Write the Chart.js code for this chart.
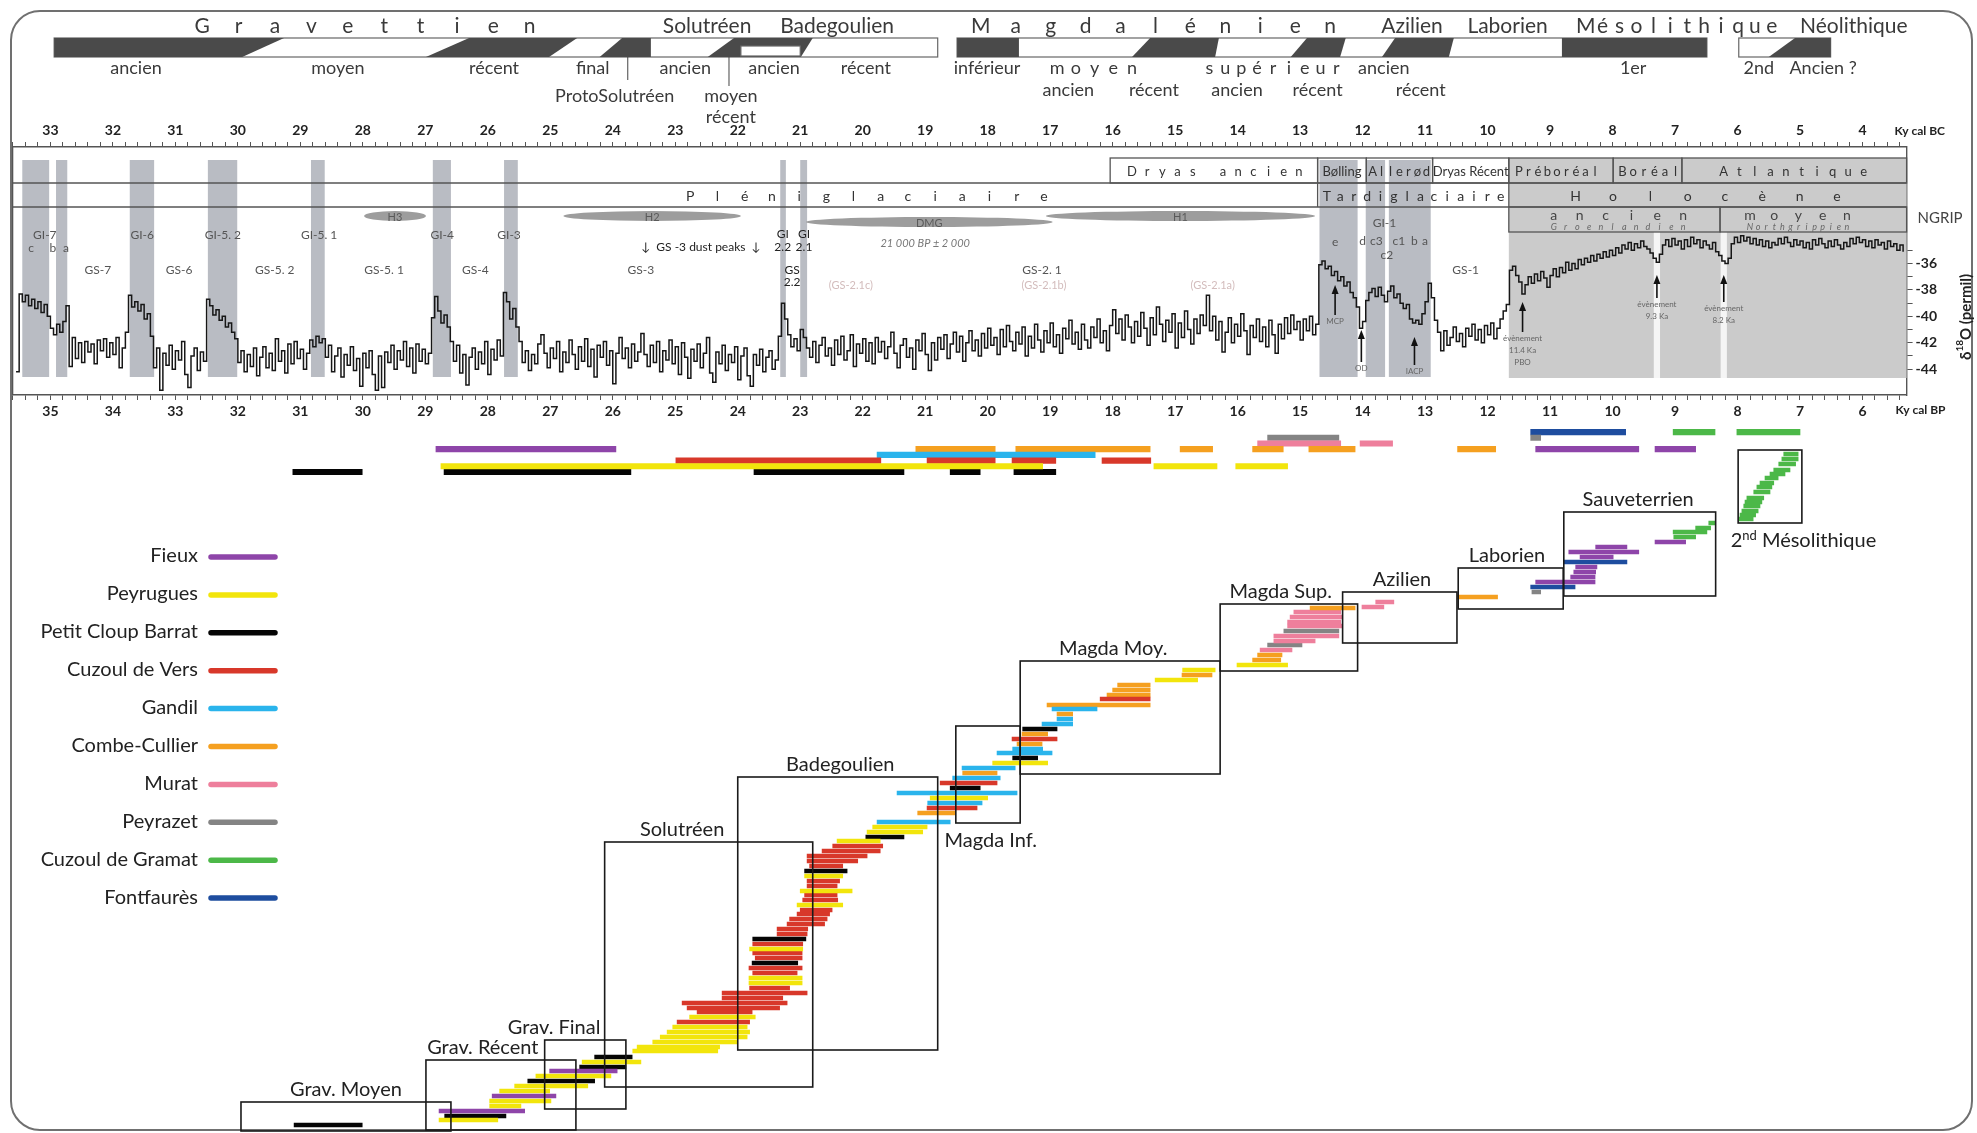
<!DOCTYPE html>
<html lang="fr">
<head>
<meta charset="utf-8">
<title>Chronologie Paléolithique supérieur – Mésolithique</title>
<script src="https://cdn.jsdelivr.net/npm/chart.js"></script>
<style>
  html, body { margin: 0; padding: 0; background: #fff; }
  #page { position: relative; width: 1977px; height: 1133px; overflow: hidden; }
  #frame { position: absolute; left: 10px; top: 10px; width: 1959px; height: 1117px;
           border: 2px solid #707070; border-radius: 30px; }
  #ngrip { position: absolute; left: 0; top: 0; }
  #sites { position: absolute; left: 0; top: 420px; }
</style>
</head>
<body>
<div id="page">
  <div id="frame"></div>
  <canvas id="ngrip" width="1977" height="420"></canvas>
  <canvas id="sites" width="1977" height="713"></canvas>
</div>
<script>
// ============================================================
// Chronologie : périodes, NGRIP et dates des sites
// ============================================================

// ─── Axe commun (ky cal BP) ───
const BP_OLD = 35.605, BP_YOUNG = 5.294;
const BC_SHIFT = 2;

// ─── NGRIP δ18O [ky cal BP, permil] ───
const ngrip = [
  [35.55,-44.2],[35.50,-38.3],[35.45,-38.9],[35.40,-38.4],[35.35,-39.2],[35.30,-38.7],[35.25,-39.4],[35.20,-38.9],[35.15,-39.7],
  [35.10,-39.1],[35.05,-40.0],[35.00,-40.9],[34.95,-41.4],[34.90,-40.6],[34.85,-41.2],[34.80,-40.4],[34.75,-39.2],[34.70,-43.8],
  [34.65,-41.6],[34.60,-43.2],[34.55,-42.0],[34.50,-43.5],[34.45,-41.9],[34.40,-42.7],[34.35,-42.1],[34.30,-43.6],[34.25,-41.8],
  [34.20,-42.6],[34.15,-41.7],[34.10,-43.1],[34.05,-42.0],[34.00,-42.9],[33.95,-41.6],[33.90,-43.9],[33.85,-42.4],[33.80,-41.2],
  [33.75,-38.4],[33.70,-39.3],[33.65,-38.9],[33.60,-39.6],[33.55,-39.1],[33.50,-40.2],[33.45,-39.8],[33.40,-41.5],[33.35,-43.9],
  [33.30,-42.4],[33.25,-45.6],[33.20,-42.8],[33.15,-43.7],[33.10,-42.2],[33.05,-44.0],[33.00,-42.6],[32.95,-43.3],[32.90,-41.9],
  [32.85,-44.4],[32.80,-45.4],[32.75,-43.0],[32.70,-42.4],[32.65,-44.1],[32.60,-42.7],[32.55,-43.4],
  [32.50,-38.7],[32.45,-39.2],[32.40,-39.9],[32.35,-39.5],[32.30,-40.3],[32.25,-40.0],[32.20,-40.8],[32.15,-40.5],[32.10,-41.2],
  [32.05,-41.7],[32.00,-43.5],
  [31.95,-42.6],[31.90,-44.2],[31.85,-42.9],[31.80,-43.8],[31.75,-42.4],[31.70,-44.5],[31.65,-43.1],[31.60,-42.3],[31.55,-43.9],
  [31.50,-42.8],[31.45,-44.1],[31.40,-41.7],[31.35,-43.4],[31.30,-42.6],[31.25,-44.3],[31.20,-42.1],[31.15,-43.6],[31.10,-41.9],
  [31.05,-43.2],[31.00,-42.5],[30.95,-44.0],[30.90,-42.8],[30.85,-41.8],[30.80,-42.3],[30.75,-41.5],[30.70,-42.0],[30.65,-41.7],
  [30.60,-43.1],[30.55,-42.2],[30.50,-44.2],[30.45,-43.0],[30.40,-42.4],[30.35,-44.6],[30.30,-42.9],[30.25,-43.7],[30.20,-42.3],
  [30.15,-44.1],[30.10,-43.2],[30.05,-45.3],[30.00,-42.8],[29.95,-43.9],[29.90,-42.6],[29.85,-44.4],[29.80,-45.6],[29.75,-43.0],
  [29.70,-45.4],[29.65,-42.7],[29.60,-43.5],[29.55,-42.2],[29.50,-44.0],[29.45,-42.6],[29.40,-43.3],[29.35,-41.9],[29.30,-43.8],
  [29.25,-42.4],[29.20,-44.3],[29.15,-42.1],[29.10,-43.4],[29.05,-42.5],[29.00,-43.6],
  [28.95,-42.8],[28.90,-40.1],[28.85,-38.5],[28.80,-39.6],[28.75,-40.5],[28.70,-39.9],[28.65,-40.8],[28.60,-41.9],
  [28.55,-43.4],[28.50,-42.2],[28.45,-44.3],[28.40,-42.9],[28.35,-45.2],[28.30,-43.1],[28.25,-42.4],[28.20,-44.0],[28.15,-42.7],
  [28.10,-43.6],[28.05,-41.9],[28.00,-44.4],[27.95,-42.5],[27.90,-43.3],[27.85,-41.8],[27.80,-43.0],
  [27.75,-38.2],[27.70,-38.9],[27.65,-40.2],[27.60,-39.4],[27.55,-40.8],[27.50,-41.9],[27.45,-43.5],
  [27.40,-42.6],[27.35,-44.1],[27.30,-42.9],[27.25,-43.6],[27.20,-42.1],[27.15,-41.4],[27.10,-42.8],[27.05,-43.9],[27.00,-42.4],
  [26.95,-43.2],[26.90,-41.9],[26.85,-44.2],[26.80,-42.7],[26.75,-43.5],[26.70,-41.8],[26.65,-42.9],[26.60,-44.0],[26.55,-42.3],
  [26.50,-43.4],[26.45,-41.7],[26.40,-43.8],[26.35,-42.5],[26.30,-44.6],[26.25,-42.2],[26.20,-43.1],[26.15,-41.9],[26.10,-43.7],
  [26.05,-42.6],[26.00,-45.1],[25.95,-42.8],[25.90,-41.6],[25.85,-43.2],[25.80,-42.4],[25.75,-43.9],[25.70,-42.1],[25.65,-43.4],
  [25.60,-42.7],[25.55,-41.3],[25.50,-42.9],[25.45,-43.8],[25.40,-42.2],[25.35,-43.5],[25.30,-41.9],[25.25,-44.2],[25.20,-42.6],
  [25.15,-43.3],[25.10,-41.8],[25.05,-43.6],[25.00,-42.3],[24.95,-44.4],[24.90,-42.0],[24.85,-43.1],[24.80,-44.7],[24.75,-42.5],
  [24.70,-43.4],[24.65,-42.1],[24.60,-43.9],[24.55,-42.8],[24.50,-41.6],[24.45,-44.3],[24.40,-45.0],[24.35,-42.7],[24.30,-43.6],
  [24.25,-42.2],[24.20,-44.1],[24.15,-42.9],[24.10,-43.5],[24.05,-42.3],[24.00,-44.8],[23.95,-43.0],[23.90,-42.4],[23.85,-44.5],
  [23.80,-45.3],[23.75,-42.9],[23.70,-43.7],[23.65,-42.5],[23.60,-44.2],[23.55,-43.1],[23.50,-42.6],[23.45,-44.0],[23.40,-43.3],
  [23.35,-41.5],[23.30,-39.0],[23.25,-40.2],[23.20,-41.4],[23.15,-42.3],[23.10,-41.7],[23.05,-42.6],[23.00,-41.0],[22.95,-41.6],
  [22.90,-42.4],
  [22.85,-43.1],[22.80,-41.9],[22.75,-43.5],[22.70,-42.2],[22.65,-41.6],[22.60,-43.0],[22.55,-42.4],[22.50,-43.7],[22.45,-41.8],
  [22.40,-42.9],[22.35,-41.5],[22.30,-43.3],[22.25,-42.6],[22.20,-41.4],[22.15,-43.8],[22.10,-42.1],[22.05,-42.8],[22.00,-41.7],
  [21.95,-43.4],[21.90,-42.0],[21.85,-43.6],[21.80,-41.6],[21.75,-42.7],[21.70,-41.9],[21.65,-43.2],[21.60,-42.3],[21.55,-41.2],
  [21.50,-42.8],[21.45,-43.9],[21.40,-42.2],[21.35,-41.7],[21.30,-43.1],[21.25,-42.4],[21.20,-44.0],[21.15,-41.8],[21.10,-42.6],
  [21.05,-41.3],[21.00,-42.9],[20.95,-44.1],[20.90,-42.0],[20.85,-43.3],[20.80,-41.6],[20.75,-42.5],[20.70,-41.4],[20.65,-43.2],
  [20.60,-42.1],[20.55,-41.2],[20.50,-42.7],[20.45,-41.5],[20.40,-43.4],[20.35,-42.0],[20.30,-41.1],[20.25,-42.6],[20.20,-41.8],
  [20.15,-43.0],[20.10,-41.3],[20.05,-42.4],[20.00,-40.9],[19.95,-42.2],[19.90,-41.6],[19.85,-42.9],[19.80,-41.0],[19.75,-42.3],
  [19.70,-40.7],[19.65,-41.9],[19.60,-42.6],[19.55,-41.2],[19.50,-42.1],[19.45,-40.8],[19.40,-43.0],[19.35,-41.5],[19.30,-42.4],
  [19.25,-40.6],[19.20,-41.8],[19.15,-42.7],[19.10,-41.1],[19.05,-42.0],[19.00,-40.5],[18.95,-42.3],[18.90,-41.4],[18.85,-42.8],
  [18.80,-40.9],[18.75,-41.7],[18.70,-40.3],[18.65,-42.1],[18.60,-41.2],[18.55,-42.5],[18.50,-40.6],[18.45,-41.8],[18.40,-42.4],
  [18.35,-40.8],[18.30,-41.6],[18.25,-40.2],[18.20,-42.0],[18.15,-41.1],[18.10,-42.6],[18.05,-40.7],
  [18.00,-39.5],[17.95,-41.3],[17.90,-40.2],[17.85,-41.8],[17.80,-39.9],[17.75,-40.8],[17.70,-42.0],[17.65,-40.4],[17.60,-41.5],
  [17.55,-39.7],[17.50,-40.9],[17.45,-42.2],[17.40,-40.1],[17.35,-41.4],[17.30,-39.3],[17.25,-40.6],[17.20,-41.9],[17.15,-40.3],
  [17.10,-41.2],[17.05,-39.8],[17.00,-42.4],[16.95,-40.5],[16.90,-41.6],[16.85,-39.6],[16.80,-41.0],[16.75,-42.1],[16.70,-40.2],
  [16.65,-41.3],[16.60,-39.9],[16.55,-40.7],[16.50,-38.4],[16.45,-41.1],[16.40,-40.0],[16.35,-41.8],[16.30,-40.4],[16.25,-42.7],
  [16.20,-41.2],[16.15,-40.1],[16.10,-42.0],[16.05,-40.6],[16.00,-41.5],[15.95,-39.8],[15.90,-41.1],[15.85,-42.9],[15.80,-40.7],
  [15.75,-41.6],[15.70,-40.2],[15.65,-41.9],[15.60,-40.8],[15.55,-42.3],[15.50,-40.3],[15.45,-41.4],[15.40,-42.8],[15.35,-40.6],
  [15.30,-41.7],[15.25,-40.1],[15.20,-41.3],[15.15,-39.9],[15.10,-41.0],[15.05,-40.4],[15.00,-41.8],[14.95,-40.2],[14.90,-41.1],
  [14.85,-40.0],[14.80,-41.4],[14.75,-40.6],
  [14.70,-36.1],[14.65,-35.8],[14.60,-36.4],[14.55,-36.2],[14.50,-36.9],[14.45,-36.6],[14.40,-37.3],[14.35,-37.0],[14.30,-37.7],
  [14.25,-37.4],[14.20,-38.2],[14.15,-38.6],[14.10,-39.3],
  [14.05,-40.9],[14.00,-40.4],[13.95,-38.8],[13.90,-38.2],[13.85,-37.9],[13.80,-38.5],[13.75,-37.8],[13.70,-38.4],[13.65,-38.9],
  [13.60,-38.1],[13.55,-37.7],[13.50,-38.6],[13.45,-38.3],[13.40,-39.0],[13.35,-39.4],[13.30,-39.1],[13.25,-40.2],[13.20,-40.5],
  [13.15,-40.3],[13.10,-40.6],[13.05,-39.8],[13.00,-38.9],[12.95,-37.5],[12.90,-38.6],
  [12.85,-40.3],[12.80,-41.2],[12.75,-42.6],[12.70,-41.1],[12.65,-42.2],[12.60,-41.6],[12.55,-40.8],[12.50,-41.9],[12.45,-41.3],
  [12.40,-42.3],[12.35,-40.9],[12.30,-41.5],[12.25,-40.6],[12.20,-41.8],[12.15,-41.0],[12.10,-42.0],[12.05,-40.7],[12.00,-41.4],
  [11.95,-40.5],[11.90,-41.7],[11.85,-40.9],[11.80,-40.2],[11.75,-39.6],[11.70,-39.1],
  [11.65,-36.5],[11.60,-36.2],[11.55,-36.9],[11.50,-37.4],[11.45,-38.3],[11.40,-37.6],[11.35,-37.0],[11.30,-37.5],[11.25,-36.8],
  [11.20,-37.3],[11.15,-36.6],[11.10,-37.1],[11.05,-37.8],[11.00,-36.9],[10.95,-36.4],[10.90,-37.0],[10.85,-36.3],[10.80,-36.7],
  [10.75,-35.9],[10.70,-36.5],[10.65,-36.0],[10.60,-36.4],[10.55,-35.7],[10.50,-36.1],[10.45,-35.6],[10.40,-35.9],[10.35,-35.4],
  [10.30,-35.8],[10.25,-35.3],[10.20,-35.6],[10.15,-35.1],[10.10,-35.5],[10.05,-35.0],[10.00,-35.4],
  [9.95,-34.8],[9.90,-35.2],[9.85,-34.6],[9.80,-34.9],[9.75,-34.4],[9.70,-35.0],[9.65,-34.5],[9.60,-34.8],[9.55,-34.3],[9.50,-34.7],
  [9.45,-34.9],[9.40,-35.2],[9.35,-35.6],[9.30,-35.9],[9.25,-35.3],[9.20,-34.6],[9.15,-34.2],[9.10,-34.7],[9.05,-34.1],[9.00,-34.6],
  [8.95,-34.3],[8.90,-34.9],[8.85,-34.2],[8.80,-34.7],[8.75,-34.0],[8.70,-34.5],[8.65,-34.2],[8.60,-34.8],[8.55,-34.3],[8.50,-34.6],
  [8.45,-34.9],[8.40,-34.4],[8.35,-35.1],[8.30,-35.4],[8.25,-35.8],[8.20,-36.0],[8.15,-35.6],[8.10,-34.5],[8.05,-34.0],[8.00,-34.4],
  [7.95,-33.9],[7.90,-34.3],[7.85,-34.0],[7.80,-34.5],[7.75,-34.1],[7.70,-34.6],[7.65,-34.2],[7.60,-34.7],[7.55,-34.3],[7.50,-34.8],
  [7.45,-34.4],[7.40,-34.6],[7.35,-34.1],[7.30,-34.5],[7.25,-34.0],[7.20,-34.4],[7.15,-34.7],[7.10,-34.2],[7.05,-34.6],[7.00,-34.3],
  [6.95,-34.8],[6.90,-34.4],[6.85,-34.9],[6.80,-34.2],[6.75,-34.6],[6.70,-34.1],[6.65,-34.5],[6.60,-34.8],[6.55,-34.3],[6.50,-34.7],
  [6.45,-34.2],[6.40,-34.6],[6.35,-34.9],[6.30,-34.4],[6.25,-34.7],[6.20,-34.1],[6.15,-34.5],[6.10,-34.0],[6.05,-34.4],[6.00,-34.2],
  [5.95,-34.7],[5.90,-34.3],[5.85,-34.8],[5.80,-34.2],[5.75,-34.6],[5.70,-34.4],[5.65,-34.9],[5.60,-34.3],[5.55,-34.7],[5.50,-34.5],
  [5.45,-35.0],[5.40,-34.6],[5.35,-35.1]
];

// ─── Interstades groenlandais [plus ancien, plus récent] ───
const giBands = [[35.45,35.02],[34.91,34.73],[33.73,33.34],[32.48,32.01],[30.83,30.61],[28.88,28.59],[27.74,27.52],
                 [23.32,23.23],[23.00,22.89],[14.69,14.08],[13.95,13.64],[13.58,12.91]];
const holoceneStart = 11.66;
const holoceneEvents = [9.29, 8.22];

// ─── Chronozones [texte, début, fin, texte espacé de, à] ───
const chronozones = [
  ['Dryas ancien', 18.04, 14.72, 17.69, 15.02],
  ['Bølling', 14.72, 13.94],
  ['Allerød', 13.94, 12.88, 13.84, 12.98],
  ['Dryas Récent', 12.88, 11.66],
  ['Préboréal', 11.66, 9.99, 11.5, 10.28],
  ['Boréal', 9.99, 8.89, 9.84, 8.99],
  ['Atlantique', 8.89, BP_YOUNG, 8.22, 5.98]
];
const climatePeriods = [
  ['Pléniglaciaire', BP_OLD, 14.72, 24.76, 19.10],
  ['Tardiglaciaire', 14.72, 11.66, 14.57, 11.79],
  ['Holocène', 11.66, BP_YOUNG, 10.59, 6.41]
];
const holoceneStages = [
  ['ancien', 'Groenlandien', 11.66, 8.28, 10.94, 8.87],
  ['moyen', 'Northgrippien', 8.28, BP_YOUNG, 7.80, 6.25]
];
const heinrich = [['H3', 29.98, 28.99, 216], ['H2', 26.79, 23.95, 216], ['DMG', 22.91, 18.96, 222], ['H1', 19.07, 14.76, 216]];
const giLabels = [['GI-7', 35.09], ['GI-6', 33.53], ['GI-5. 2', 32.24], ['GI-5. 1', 30.70], ['GI-4', 28.73], ['GI-3', 27.66]];
const gsLabels = [['GS-7', 34.24], ['GS-6', 32.94], ['GS-5. 2', 31.41], ['GS-5. 1', 29.66], ['GS-4', 28.20], ['GS-3', 25.55], ['GS-2. 1', 19.13], ['GS-1', 12.35]];
const events = [
  ['MCP', 14.44, 285, 315], ['OD', 14.02, 330, 362], ['IACP', 13.17, 337, 365],
  ['évènement|11.4 Ka|PBO', 11.44, 302, 332], ['évènement|9.3 Ka', 9.29, 275, 298], ['évènement|8.2 Ka', 8.22, 275, 302]
];

// ─── Bandeau des cultures ───
const cultureTitles = [['Gravettien', 32.57, 27.33], ['Solutréen', 24.49], ['Badegoulien', 22.41], ['Magdalénien', 20.11, 14.52],
                       ['Azilien', 13.21], ['Laborien', 11.68], ['Mésolithique', 10.43, 7.45], ['Néolithique', 6.14]];
const cultureBars = [[34.94, 20.80], [20.49, 8.49], [7.98, 6.51]];
// [haut début, bas début, haut fin, bas fin]
const cultureDark = [[34.94,34.94,31.26,31.93],[28.30,28.99,26.57,27.02],[25.85,26.21,25.39,25.39],[24.06,24.48,22.80,22.99],
                     [20.49,20.49,19.50,19.50],[17.40,17.69,16.30,16.36],[14.89,15.15,14.27,14.36],[13.48,13.69,12.54,12.62],
                     [10.81,10.81,8.49,8.49],[7.08,7.50,6.51,6.51]];
const cultureHollow = [[23.95, 23.00]];
const cultureSubs = [['ancien',33.63,1],['moyen',30.40,1],['récent',27.90,1],['final',26.32,1],['ancien',24.84,1],['ancien',23.42,1],
                     ['récent',21.95,1],['inférieur',20.01,1],['ancien',13.66,1],['1er',9.67,1],['2nd',7.66,1],['Ancien ?',6.63,1],
                     ['ProtoSolutréen',25.97,4],['moyen',24.11,4],['récent',24.11,3],['ancien',18.71,2],['récent',17.34,2],
                     ['ancien',16.01,2],['récent',14.72,2],['récent',13.07,2]];
const cultureSubsSpaced = [['moyen', 18.89, 17.69], ['supérieur', 16.45, 14.42]];
const cultureTies = [[25.76, 80], [24.14, 86]];

// ─── Sites ───
const siteNames = ['Fieux', 'Peyrugues', 'Petit Cloup Barrat', 'Cuzoul de Vers', 'Gandil', 'Combe-Cullier', 'Murat', 'Peyrazet', 'Cuzoul de Gramat', 'Fontfaurès'];
const siteColors = ['#8e45a9', '#f2e50c', '#050505', '#d8382a', '#2ab4ec', '#f5a020', '#ee7f9c', '#848484', '#4cb848', '#1e4d9f'];

// dates détaillées [rang, début ky BP, fin ky BP]
const fieuxBars = [[3.8,28.78,27.41],[6.8,27.93,26.91],[11.8,27.01,25.93],[109.6,11.23,10.28],[110.6,10.67,10.28],[111.6,10.62,10.27],
                   [112.6,10.59,10.25],[114.6,10.52,9.99],[115.6,10.70,9.58],[116.6,10.27,9.77],[117.6,9.32,8.83]];
const peyruguesBars = [[2.0,28.78,27.84],[4.8,27.97,27.47],[5.8,27.97,26.99],[7.8,27.81,27.01],[8.8,27.57,26.40],[10.8,27.23,26.03],
                       [13.6,26.49,25.55],[15.8,25.68,24.32],[16.6,25.61,24.29],[17.6,25.36,24.01],[18.6,25.24,23.85],[19.6,25.13,23.81],
                       [20.6,25.04,23.85],[22.6,24.77,23.72],[29.4,23.82,22.97],[30.4,23.82,22.97],[36.2,23.81,22.96],[45.0,23.05,22.32],
                       [47.8,23.00,22.17],[50.8,22.93,22.32],[57.8,22.41,21.72],[59.6,21.93,21.04],[60.6,21.84,20.97],[66.4,20.92,20.00],
                       [73.4,19.92,19.04],[90.0,17.32,16.64],[92.0,16.88,16.36],[93.0,16.01,15.20]];
const pcbBars = [[1.0,31.10,30.01],[2.8,28.69,27.71],[9.8,27.36,26.29],[12.6,26.53,25.79],[14.6,26.29,25.69],[33.4,23.77,23.04],
                 [38.2,23.76,22.91],[51.8,22.93,22.25],[58.6,21.95,21.34],[68.4,20.60,20.12],[74.4,19.60,19.20],[80.2,19.44,18.89]];
const cuzoulVersBars = [[21.6,24.97,23.81],[23.6,24.65,23.77],[24.4,24.81,23.33],[25.4,24.89,23.21],[26.4,24.25,23.28],[27.4,24.25,22.89],
                        [28.4,23.81,23.17],[31.4,23.76,23.05],[32.4,23.82,22.97],[34.4,23.72,22.97],[35.4,23.76,22.97],[37.2,23.76,22.96],
                        [39.2,23.37,22.89],[40.2,23.37,22.88],[41.2,23.21,22.61],[42.2,23.17,22.57],[43.2,23.05,22.53],[44.0,23.00,22.49],
                        [46.0,22.96,22.40],[47.0,22.93,22.41],[48.8,22.89,22.41],[49.8,22.89,22.37],[52.8,22.85,22.32],[53.8,22.89,22.08],
                        [54.8,22.89,21.93],[55.8,22.65,21.72],[56.8,22.48,21.68],[64.4,20.97,20.17],[69.4,20.76,19.85],[78.2,19.61,18.89],
                        [86.2,18.20,17.40]];
const gandilBars = [[61.6,21.77,20.60],[65.4,20.96,20.09],[67.4,21.45,19.53],[70.4,20.56,19.80],[72.4,20.41,19.56],[75.4,19.85,18.97],
                    [76.2,19.60,19.12],[81.2,19.13,18.64],[82.2,18.89,18.64],[84.2,18.97,18.25]];
const combeCullierBars = [[63.4,21.12,20.52],[71.4,20.40,19.85],[77.2,19.53,19.13],[79.2,19.45,19.04],[83.2,18.89,18.64],[85.0,19.05,17.40],
                          [87.0,18.09,17.40],[88.0,18.00,17.40],[89.0,17.92,17.40],[91.0,16.89,16.41],[94.0,15.76,15.31],[95.0,15.68,15.29],
                          [104.4,14.84,14.12],[106.6,12.48,11.84]];
const muratBars = [[96.0,15.64,15.13],[97.8,15.42,14.76],[98.8,15.42,14.38],[100.8,15.20,14.32],[101.6,15.20,14.35],[102.6,15.16,14.32],
                   [103.6,15.10,14.35],[104.6,14.01,13.66],[105.6,13.79,13.50]];
const peyrazetBars = [[97.0,15.52,14.97],[99.8,15.26,14.38],[107.6,11.29,11.15]];
const cuzoulGramatBars = [[118.6,9.02,8.67],[119.6,9.03,8.49],[120.4,8.67,8.43],[121.4,8.46,8.36],[122.2,7.98,7.75],[123.0,7.96,7.71],
                          [123.8,7.93,7.67],[124.8,7.90,7.64],[125.6,7.88,7.61],[126.4,7.85,7.58],[127.6,7.74,7.48],[128.6,7.69,7.45],
                          [129.4,7.64,7.42],[130.4,7.56,7.35],[131.2,7.48,7.24],[132.0,7.42,7.16],[133.2,7.34,7.07],[134.2,7.29,7.03],
                          [135.2,7.26,7.03]];
const fontfauresBars = [[108.6,11.31,10.60],[113.6,10.78,9.77]];
const siteBars = [fieuxBars, peyruguesBars, pcbBars, cuzoulVersBars, gandilBars, combeCullierBars, muratBars, peyrazetBars, cuzoulGramatBars, fontfauresBars];

// synthèse par site [début, fin] et ligne
const siteLanes = [4, 1, 0, 2, 3, 4, 5, 6, 7, 7];
const fieuxSpan = [[28.83,25.95],[11.23,9.58],[9.32,8.67]];
const peyruguesSpan = [[28.75,19.12],[17.34,16.33],[16.03,15.20]];
const pcbSpan = [[31.12,30.01],[28.70,25.71],[23.74,21.34],[20.60,20.12],[19.58,18.91]];
const cuzoulVersSpan = [[24.99,21.71],[20.97,19.88],[19.61,18.91],[18.17,17.39]];
const gandilSpan = [[21.77,18.28]];
const combeCullierSpan = [[21.15,19.88],[19.55,17.40],[16.92,16.40],[15.76,15.27],[14.86,14.12],[12.48,11.87]];
const muratSpan = [[15.68,14.35],[14.04,13.52]];
const peyrazetSpan = [[15.52,14.38],[11.31,11.15]];
const cuzoulGramatSpan = [[9.03,8.36],[8.01,7.00]];
const fontfauresSpan = [[11.31,9.79]];
const siteSpans = [fieuxSpan, peyruguesSpan, pcbSpan, cuzoulVersSpan, gandilSpan, combeCullierSpan, muratSpan, peyrazetSpan, cuzoulGramatSpan, fontfauresSpan];

// cadres culturels [nom, début, fin, rang bas, rang haut, centre du titre, place du titre]
const cultureBoxes = [
  ['Grav. Moyen', 31.95, 28.59, -0.2, 5.6, 30.27, 'above'],
  ['Grav. Récent', 28.99, 26.59, 0.0, 14.0, 28.08, 'above'],
  ['Grav. Final', 27.09, 25.79, 4.2, 18.0, 26.94, 'above'],
  ['Solutréen', 26.13, 22.80, 8.6, 57.6, 24.89, 'above'],
  ['Badegoulien', 24.00, 20.80, 16.0, 70.6, 22.36, 'above'],
  ['Magda Inf.', 20.51, 19.48, 61.4, 80.8, 19.95, 'below'],
  ['Magda Moy.', 19.48, 16.28, 71.2, 93.8, 17.99, 'above'],
  ['Magda Sup.', 16.28, 14.08, 91.8, 105.2, 15.31, 'above'],
  ['Azilien', 14.32, 12.49, 97.4, 107.6, 13.37, 'above'],
  ['Laborien', 12.47, 10.79, 104.2, 112.4, 11.69, 'above'],
  ['Sauveterrien', 10.78, 8.35, 106.8, 123.6, 9.59, 'above'],
  ['2|nd| Mésolithique', 7.99, 6.97, 121.4, 136.0, 8.11, 'belowStart']
];

// ─── Utilitaires de dessin ───
function seg(ctx, x1, y1, x2, y2) { ctx.beginPath(); ctx.moveTo(x1, y1); ctx.lineTo(x2, y2); ctx.stroke(); }
function spaced(ctx, text, x1, x2, y) {
    const chars = Array.from(text);
    const step = chars.length > 1 ? (x2 - x1) / (chars.length - 1) : 0;
    ctx.textAlign = 'center';
    chars.forEach((c, i) => ctx.fillText(c, x1 + i * step, y));
}
function arrowUp(ctx, x, tip, tail) {
    seg(ctx, x, tail, x, tip + 6);
    ctx.beginPath(); ctx.moveTo(x, tip); ctx.lineTo(x - 3.5, tip + 9); ctx.lineTo(x + 3.5, tip + 9); ctx.closePath(); ctx.fill();
}
const isWhole = v => Math.abs(v - Math.round(v)) < 1e-6;

Chart.defaults.font.family = 'Lato, "Open Sans", sans-serif';
Chart.defaults.color = '#222';

// ─── Décor du panneau NGRIP ───
const ngripDecor = {
    id: 'ngripDecor',
    beforeDatasetsDraw(chart) {
        const { ctx, chartArea: ca, scales: { x } } = chart;
        const X = v => x.getPixelForValue(v);
        const r1 = ca.top + 11, r2 = ca.top + 36, r3 = ca.top + 60, r4 = ca.top + 85;
        const bTop = ca.top + 13, bBot = ca.top + 230;
        ctx.save();

        const hx = X(holoceneStart);
        ctx.fillStyle = '#cbcbcb';
        ctx.fillRect(hx, r1, ca.right - hx, bBot + 1 - r1);
        ctx.fillStyle = 'rgba(255,255,255,0.8)';
        holoceneEvents.forEach(e => { const a = X(e + 0.05), b = X(e - 0.05); ctx.fillRect(a, r4, b - a, bBot + 1 - r4); });

        ctx.fillStyle = '#b9bcc3';
        giBands.forEach(([o, y]) => ctx.fillRect(X(o), bTop, X(y) - X(o), bBot - bTop));

        // lignes et cases
        ctx.strokeStyle = '#555'; ctx.lineWidth = 1.3;
        seg(ctx, ca.left, r2, ca.right, r2);
        seg(ctx, ca.left, r3, ca.right, r3);
        chronozones.forEach(([, o, y]) => ctx.strokeRect(X(o), r1, X(y) - X(o), r2 - r1));
        climatePeriods.forEach(([, o]) => { if (o < BP_OLD) seg(ctx, X(o), r2, X(o), r3); });
        holoceneStages.forEach(([, , o, y]) => ctx.strokeRect(X(o), r3, X(y) - X(o), r4 - r3));

        ctx.fillStyle = '#333'; ctx.textBaseline = 'middle';
        ctx.font = '13px Lato';
        chronozones.forEach(([t, o, y, s1, s2]) => {
            if (s1 !== undefined) spaced(ctx, t, X(s1), X(s2), (r1 + r2) / 2 + 1);
            else { ctx.textAlign = 'center'; ctx.fillText(t, (X(o) + X(y)) / 2, (r1 + r2) / 2 + 1); }
        });
        ctx.font = '14px Lato';
        climatePeriods.forEach(([t, , , s1, s2]) => spaced(ctx, t, X(s1), X(s2), (r2 + r3) / 2 + 1));
        holoceneStages.forEach(([t, sub, , , s1, s2]) => {
            ctx.font = '14px Lato'; ctx.fillStyle = '#444';
            spaced(ctx, t, X(s1), X(s2), r3 + 8);
            ctx.font = 'italic 9px Lato'; ctx.fillStyle = '#666';
            spaced(ctx, sub, X(s1), X(s2), r3 + 20);
        });

        // événements de Heinrich / DMG
        heinrich.forEach(([t, o, y, cy]) => {
            const a = X(o), b = X(y);
            ctx.fillStyle = '#9d9d9d';
            ctx.beginPath(); ctx.ellipse((a + b) / 2, cy, (b - a) / 2, 5, 0, 0, Math.PI * 2); ctx.fill();
            ctx.fillStyle = '#5a5a5a'; ctx.font = '11px Lato'; ctx.textAlign = 'center';
            ctx.fillText(t, (a + b) / 2, cy + 1);
        });
        ctx.font = 'italic 11px Lato'; ctx.fillStyle = '#777';
        ctx.fillText('21 000 BP ± 2 000', X(21.0), 243);

        // stades et interstades
        ctx.font = '12px Lato'; ctx.fillStyle = '#555'; ctx.textAlign = 'center';
        giLabels.forEach(([t, v]) => ctx.fillText(t, X(v), 235));
        gsLabels.forEach(([t, v]) => ctx.fillText(t, X(v), 270));
        [['c', 35.31], ['b', 34.96], ['a', 34.75]].forEach(([t, v]) => ctx.fillText(t, X(v), 248));
        ctx.fillText('GI-1', X(13.65), 223);
        [['d', 14.0], ['c3', 13.78], ['c1', 13.42], ['b', 13.17], ['a', 13.0]].forEach(([t, v]) => ctx.fillText(t, X(v), 241));
        ctx.fillText('c2', X(13.61), 255);
        ctx.fillText('e', X(14.44), 242);
        ctx.fillStyle = '#222'; ctx.font = '12px Lato';
        ctx.fillText('GI', X(23.28), 234); ctx.fillText('2.2', X(23.28), 247);
        ctx.fillText('GI', X(22.94), 234); ctx.fillText('2.1', X(22.94), 247);
        ctx.fillText('GS', X(23.13), 270); ctx.fillText('2.2', X(23.13), 282);
        ctx.fillText('↓  GS -3 dust peaks  ↓', X(24.59), 247);
        ctx.font = '11px Lato'; ctx.fillStyle = '#d3bcbc';
        [['(GS-2.1c)', 22.19], ['(GS-2.1b)', 19.10], ['(GS-2.1a)', 16.40]].forEach(([t, v]) => ctx.fillText(t, X(v), 285));
        ctx.restore();
    },
    afterDatasetsDraw(chart) {
        const { ctx, chartArea: ca, scales: { x } } = chart;
        const X = v => x.getPixelForValue(v);
        ctx.save();
        ctx.strokeStyle = '#111'; ctx.fillStyle = '#111'; ctx.lineWidth = 1.6;
        events.forEach(([t, v, tip, tail]) => {
            arrowUp(ctx, X(v), tip, tail);
            ctx.font = '8px Lato'; ctx.fillStyle = '#666'; ctx.textAlign = 'center'; ctx.textBaseline = 'top';
            t.split('|').forEach((line, i) => ctx.fillText(line, X(v), tail + 2 + i * 12));
            ctx.fillStyle = '#111';
        });
        ctx.strokeStyle = '#555'; ctx.lineWidth = 1.4;
        seg(ctx, ca.left, ca.top, ca.left, ca.bottom);
        ctx.restore();
    },
    afterDraw(chart) {
        const { ctx, chartArea: ca, scales: { x } } = chart;
        const X = v => x.getPixelForValue(v);
        ctx.save();
        // bandeau des cultures
        const top = 38, bot = 57, lineY = [0, 68, 90, 117, 96];
        ctx.lineWidth = 1.2; ctx.strokeStyle = '#666';
        cultureBars.forEach(([o, y]) => { ctx.fillStyle = '#fff'; ctx.fillRect(X(o), top, X(y) - X(o), bot - top); ctx.strokeRect(X(o), top, X(y) - X(o), bot - top); });
        ctx.fillStyle = '#4a4a4a';
        cultureDark.forEach(([to, bo, ty, by]) => {
            ctx.beginPath(); ctx.moveTo(X(to), top); ctx.lineTo(X(ty), top); ctx.lineTo(X(by), bot); ctx.lineTo(X(bo), bot); ctx.closePath(); ctx.fill();
        });
        cultureHollow.forEach(([o, y]) => { ctx.fillStyle = '#fff'; ctx.fillRect(X(o), top + 8, X(y) - X(o), bot - top - 9); ctx.strokeRect(X(o), top + 8, X(y) - X(o), bot - top - 9); });
        ctx.strokeStyle = '#444'; ctx.lineWidth = 1;
        cultureTies.forEach(([v, y2]) => seg(ctx, X(v), bot, X(v), y2));

        ctx.fillStyle = '#3a3a3a'; ctx.textBaseline = 'middle'; ctx.font = '21px Lato';
        cultureTitles.forEach(([t, a, b]) => {
            if (b !== undefined) spaced(ctx, t, X(a), X(b), 26);
            else { ctx.textAlign = 'center'; ctx.fillText(t, X(a), 26); }
        });
        ctx.font = '18px Lato';
        cultureSubs.forEach(([t, v, l]) => { ctx.textAlign = 'center'; ctx.fillText(t, X(v), lineY[l]); });
        cultureSubsSpaced.forEach(([t, a, b]) => spaced(ctx, t, X(a), X(b), 68));

        // titres d'axes
        ctx.font = 'bold 12px Lato'; ctx.fillStyle = '#222'; ctx.textAlign = 'left';
        ctx.fillText('Ky cal BC', ca.right - 12, 131);
        ctx.fillText('Ky cal BP', ca.right - 11, 410);
        ctx.font = '15px Lato'; ctx.fillStyle = '#444';
        ctx.fillText('NGRIP', ca.right + 11, 218);
        ctx.translate(1966, 300); ctx.rotate(-Math.PI / 2);
        ctx.fillStyle = '#222'; ctx.textAlign = 'left'; ctx.textBaseline = 'middle';
        ctx.font = 'bold 15px Lato';
        let cx = -60;
        ctx.fillText('δ', cx, 0); cx += ctx.measureText('δ').width;
        ctx.font = 'bold 10px Lato'; ctx.fillText('18', cx, -6); cx += ctx.measureText('18').width;
        ctx.font = 'bold 15px Lato'; ctx.fillText('O (permil)', cx, 0);
        ctx.restore();
    }
};

const tickAxis = (extra) => Object.assign({
    type: 'linear', reverse: true, offset: false,
    ticks: { stepSize: 0.2, autoSkip: false, maxRotation: 0, includeBounds: false, padding: 3,
             font: { size: 14, weight: 'bold' }, color: '#222',
             callback: v => isWhole(v) ? String(Math.round(v)) : '' },
    grid: { drawOnChartArea: false, tickLength: 5, color: '#555', lineWidth: 1 },
    border: { color: '#555', width: 1.4 }
}, extra);

new Chart(document.getElementById('ngrip'), {
    type: 'line',
    data: {
        datasets: [{
            label: 'NGRIP δ18O',
            data: ngrip.map(([a, d]) => ({ x: a, y: d })),
            borderColor: '#161616',
            borderWidth: 1.5,
            pointRadius: 0,
            stepped: true,
            xAxisID: 'x', yAxisID: 'y'
        }]
    },
    options: {
        responsive: false, animation: false,
        layout: { padding: { left: 12.6, right: 0, top: 107, bottom: 0 } },
        plugins: { legend: { display: false }, tooltip: { enabled: false } },
        scales: {
            x: tickAxis({ position: 'bottom', min: BP_YOUNG, max: BP_OLD, afterFit: s => { s.height = 25; } }),
            x2: tickAxis({ position: 'top', min: BP_YOUNG - BC_SHIFT, max: BP_OLD - BC_SHIFT, afterFit: s => { s.height = 40; } }),
            y: {
                type: 'linear', position: 'right', min: -45.96, max: -27.17,
                ticks: { stepSize: 1, padding: 3, font: { size: 14, weight: 'bold' }, color: '#222',
                         callback: v => (v % 2 === 0 && v <= -36 && v >= -44) ? String(v) : '' },
                afterBuildTicks: s => { s.ticks = s.ticks.filter(t => t.value <= -35 && t.value >= -45); },
                grid: { drawOnChartArea: false, tickLength: 6, color: '#555' },
                border: { color: '#555', width: 1.4 },
                afterFit: s => { s.width = 70.4; }
            }
        }
    },
    plugins: [ngripDecor]
});

// ─── Décor du panneau des sites ───
const sitesDecor = {
    id: 'sitesDecor',
    afterDatasetsDraw(chart) {
        const { ctx, scales: { x, y } } = chart;
        const X = v => x.getPixelForValue(v), Y = v => y.getPixelForValue(v);
        ctx.save();
        ctx.strokeStyle = '#1a1a1a'; ctx.lineWidth = 1.6; ctx.fillStyle = '#222';
        ctx.font = '20px Lato';
        cultureBoxes.forEach(([name, o, yg, lo, hi, at, where]) => {
            const l = X(o), r = X(yg), t = Y(hi), b = Y(lo);
            ctx.strokeRect(l, t, r - l, b - t);
            if (where === 'above') {
                ctx.textAlign = 'center'; ctx.textBaseline = 'bottom'; ctx.fillText(name, X(at), t - 2);
            } else if (where === 'below') {
                ctx.textAlign = 'center'; ctx.textBaseline = 'top'; ctx.fillText(name, X(at), b + 8);
            } else {
                const [n, sup, rest] = name.split('|');
                let cx = X(at);
                ctx.textAlign = 'left'; ctx.textBaseline = 'top';
                ctx.fillText(n, cx, b + 8); cx += ctx.measureText(n).width;
                ctx.font = '13px Lato'; ctx.fillText(sup, cx, b + 6); cx += ctx.measureText(sup).width;
                ctx.font = '20px Lato'; ctx.fillText(rest, cx, b + 8);
            }
        });
        // légende
        const legTop = 136, legStep = 37.9;
        chart.data.datasets.slice(0, siteNames.length).forEach((ds, i) => {
            const cy = legTop + i * legStep;
            ctx.fillStyle = '#222'; ctx.textAlign = 'right'; ctx.textBaseline = 'middle'; ctx.font = '20px Lato';
            ctx.fillText(ds.label, 198, cy);
            ctx.strokeStyle = ds.backgroundColor; ctx.lineWidth = 5.5; ctx.lineCap = 'round';
            seg(ctx, 211, cy + 1, 275, cy + 1);
        });
        ctx.restore();
    }
};

const stairSets = siteNames.map((name, i) => ({
    label: name,
    data: siteBars[i].map(([r, a, b]) => ({ y: r, x: [a, b] })),
    backgroundColor: siteColors[i],
    barThickness: 4,
    grouped: false,
    yAxisID: 'y'
}));
const spanSets = siteNames.map((name, i) => ({
    label: name + ' (ensemble)',
    data: siteSpans[i].map(([a, b]) => ({ y: siteLanes[i], x: [a, b] })),
    backgroundColor: siteColors[i],
    barThickness: 5.5,
    grouped: false,
    yAxisID: 'ySum'
}));

new Chart(document.getElementById('sites'), {
    type: 'bar',
    data: { datasets: stairSets.concat(spanSets) },
    options: {
        responsive: false, animation: false,
        indexAxis: 'y',
        layout: { padding: { left: 12.6, right: 70.4, top: 0, bottom: 0 } },
        plugins: { legend: { display: false }, tooltip: { enabled: false } },
        scales: {
            x: { type: 'linear', reverse: true, min: BP_YOUNG, max: BP_OLD, display: false, offset: false },
            y: { type: 'linear', min: -0.6, max: 142, display: false, offset: false },
            ySum: { type: 'linear', position: 'left', min: -115.96, max: 9.12, display: false, offset: false }
        }
    },
    plugins: [sitesDecor]
});
</script>
</body>
</html>
